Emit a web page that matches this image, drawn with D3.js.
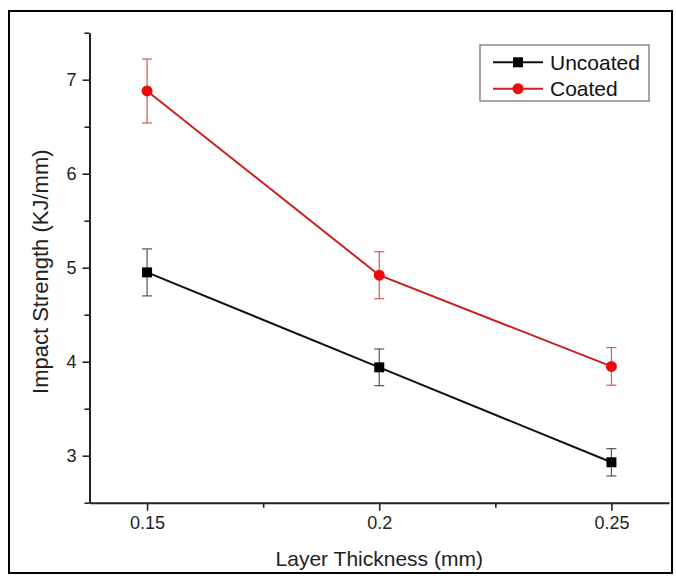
<!DOCTYPE html>
<html>
<head>
<meta charset="utf-8">
<script src="https://cdn.jsdelivr.net/npm/d3@7"></script>
<style>
  html, body { margin: 0; padding: 0; background: #fff; }
  svg { display: block; font-family: "Liberation Sans", Arial, sans-serif; }
</style>
</head>
<body>
<svg id="chart" width="676" height="576"></svg>
<script>
// Layer thickness (mm) on the x axis
const thickness = [0.15, 0.2, 0.25];

// Impact strength (KJ/mm) with standard deviations
const uncoated    = [4.95, 3.94, 2.93];
const uncoatedErr = [0.25, 0.195, 0.145];
const coated      = [6.88, 4.92, 3.95];
const coatedErr   = [0.34, 0.25, 0.2];

const xTicks = [0.15, 0.2, 0.25];
const xTickLabels = ["0.15", "0.2", "0.25"];
const xMinorTicks = [0.175, 0.225];
const yTicks = [3, 4, 5, 6, 7];
const yMinorTicks = [2.5, 3.5, 4.5, 5.5, 6.5, 7.5];

const series = [
  { name: "Uncoated", values: uncoated, errors: uncoatedErr, line: "#111111", fill: "#000000", err: "#555555", shape: "square" },
  { name: "Coated",   values: coated,   errors: coatedErr,   line: "#cc1f1f", fill: "#ee0a0a", err: "#cf5a5a", shape: "circle" }
];

const svg = d3.select("#chart");

// outer frame
svg.append("rect")
  .attr("x", 9).attr("y", 11)
  .attr("width", 663).attr("height", 562)
  .attr("fill", "none").attr("stroke", "#000").attr("stroke-width", 2);

const plot = { left: 89.5, right: 669, top: 32.7, bottom: 502.7 };

const x = d3.scaleLinear().domain([0.1376, 0.2624]).range([plot.left, plot.right]);
const y = d3.scaleLinear().domain([2.5, 7.5]).range([plot.bottom, plot.top]);

// x axis: major ticks with labels, then unlabeled minor ticks
const xAxis = svg.append("g").attr("transform", `translate(0,${plot.bottom})`);
xAxis.call(d3.axisBottom(x).tickValues(xTicks)
    .tickFormat((d, i) => xTickLabels[i]).tickSize(8).tickSizeOuter(0).tickPadding(6));
xAxis.append("g").call(d3.axisBottom(x).tickValues(xMinorTicks).tickFormat("").tickSize(5).tickSizeOuter(0))
  .select(".domain").remove();

// y axis
const yAxis = svg.append("g").attr("transform", `translate(${plot.left},0)`);
yAxis.call(d3.axisLeft(y).tickValues(yTicks).tickFormat(d3.format("d")).tickSize(7).tickSizeOuter(0).tickPadding(6));
yAxis.append("g").call(d3.axisLeft(y).tickValues(yMinorTicks).tickFormat("").tickSize(5).tickSizeOuter(0))
  .select(".domain").remove();

svg.selectAll(".domain").attr("stroke", "#222").attr("stroke-width", 2);
svg.selectAll(".tick line").attr("stroke", "#222").attr("stroke-width", 1.6);
svg.selectAll(".tick text").attr("fill", "#222").style("font-size", "18px")
  .style("font-family", "'Liberation Sans', Arial, sans-serif");

// axis titles
svg.append("text")
  .attr("x", x(0.2)).attr("y", 566)
  .attr("text-anchor", "middle")
  .style("font-size", "21px").attr("fill", "#222")
  .text("Layer Thickness (mm)");

svg.append("text")
  .attr("transform", `translate(48,${(plot.top + plot.bottom) / 2 + 4}) rotate(-90)`)
  .attr("text-anchor", "middle")
  .style("font-size", "22px").attr("fill", "#222")
  .text("Impact Strength (KJ/mm)");

// series: line, error bars, markers
const capHalf = 5;
series.forEach(s => {
  const pts = thickness.map((t, i) => ({ t, v: s.values[i], e: s.errors[i] }));
  const g = svg.append("g");

  g.append("path")
    .datum(pts)
    .attr("fill", "none")
    .attr("stroke", s.line)
    .attr("stroke-width", 2)
    .attr("d", d3.line().x(d => x(d.t)).y(d => y(d.v)));

  const eb = g.selectAll(".err").data(pts).enter().append("g")
    .attr("stroke", s.err).attr("stroke-width", 1.2);
  eb.append("line")
    .attr("x1", d => x(d.t)).attr("x2", d => x(d.t))
    .attr("y1", d => y(d.v - d.e)).attr("y2", d => y(d.v + d.e));
  eb.append("line")
    .attr("x1", d => x(d.t) - capHalf).attr("x2", d => x(d.t) + capHalf)
    .attr("y1", d => y(d.v + d.e)).attr("y2", d => y(d.v + d.e));
  eb.append("line")
    .attr("x1", d => x(d.t) - capHalf).attr("x2", d => x(d.t) + capHalf)
    .attr("y1", d => y(d.v - d.e)).attr("y2", d => y(d.v - d.e));

  if (s.shape === "square") {
    g.selectAll(".mk").data(pts).enter().append("rect")
      .attr("x", d => x(d.t) - 5).attr("y", d => y(d.v) - 5)
      .attr("width", 10).attr("height", 10)
      .attr("fill", s.fill);
  } else {
    g.selectAll(".mk").data(pts).enter().append("circle")
      .attr("cx", d => x(d.t)).attr("cy", d => y(d.v))
      .attr("r", 5.5)
      .attr("fill", s.fill);
  }
});

// legend
const legend = svg.append("g");
legend.append("rect")
  .attr("x", 480).attr("y", 45).attr("width", 169).attr("height", 56)
  .attr("fill", "#fff").attr("stroke", "#888").attr("stroke-width", 1.5);

series.forEach((s, i) => {
  const cy = 62.3 + i * 26.4;
  legend.append("line")
    .attr("x1", 493).attr("x2", 543).attr("y1", cy).attr("y2", cy)
    .attr("stroke", s.line).attr("stroke-width", 2);
  if (s.shape === "square") {
    legend.append("rect").attr("x", 518 - 5).attr("y", cy - 5)
      .attr("width", 10).attr("height", 10).attr("fill", s.fill);
  } else {
    legend.append("circle").attr("cx", 518).attr("cy", cy).attr("r", 5.5).attr("fill", s.fill);
  }
  legend.append("text")
    .attr("x", 550).attr("y", cy)
    .attr("dy", "0.36em")
    .style("font-size", "21px").attr("fill", "#111")
    .text(s.name);
});
</script>
</body>
</html>
